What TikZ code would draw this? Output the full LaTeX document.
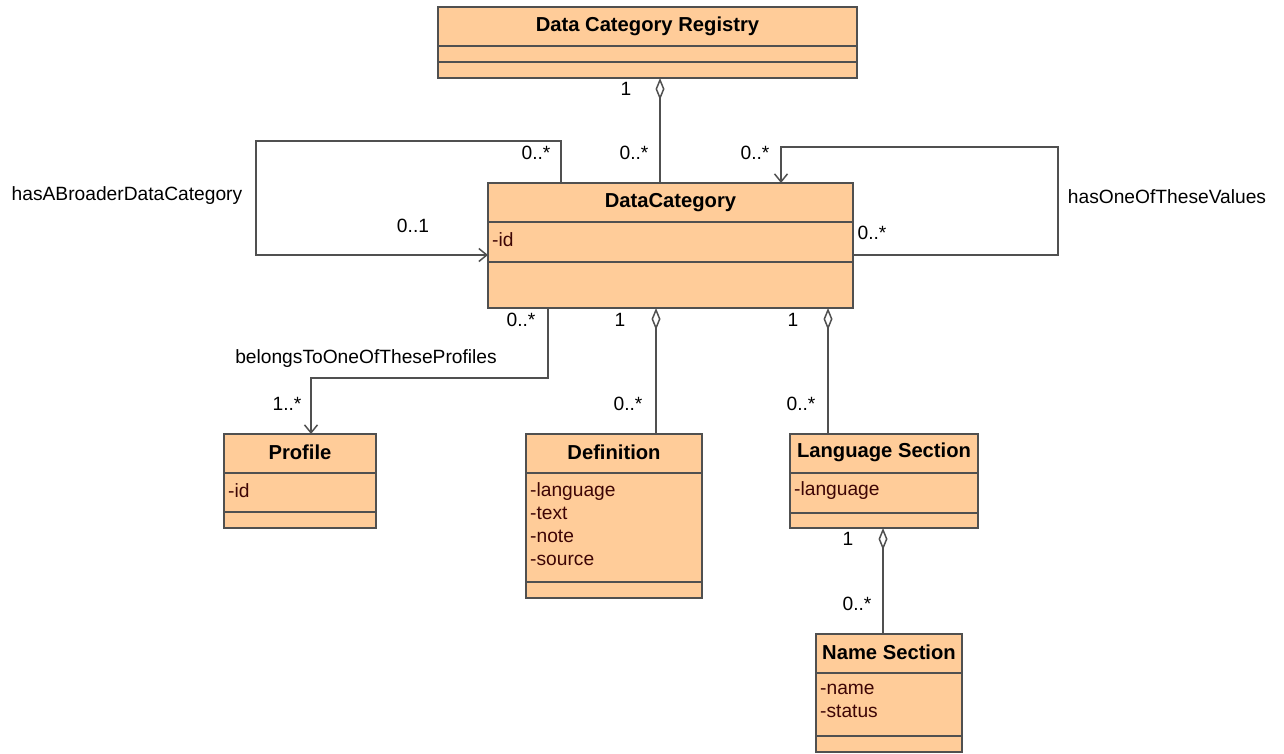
\documentclass[tikz,border=0pt]{standalone}
\usepackage{fontspec}
\setmainfont{Liberation Sans}
\usetikzlibrary{arrows.meta}
\definecolor{boxfill}{HTML}{FFCC99}
\definecolor{edge}{HTML}{505050}
\definecolor{attr}{HTML}{3D0505}
\begin{document}
\begin{tikzpicture}[x=1pt,y=-1pt,
  classbox/.style={draw=edge, fill=boxfill, line width=1.5pt, anchor=north west, inner sep=0pt, outer sep=0pt},
  sep/.style={draw=edge, line width=1.5pt},
  title/.style={font=\fontsize{20.2}{22}\selectfont\bfseries, text=black, inner sep=0pt},
  attrtext/.style={font=\fontsize{19.2}{23}\selectfont, text=attr, inner sep=0pt, anchor=west, align=left},
  lbl/.style={font=\fontsize{19.2}{22}\selectfont, text=black, inner sep=0pt},
  conn/.style={draw=edge, line width=1.5pt},
  nav/.style={conn, -{Straight Barb[length=8pt,width=13pt,line width=1.5pt]}},
  aggr/.style={conn, {Diamond[open,length=22pt,width=9pt,line width=1.5pt]}-}
]
\useasboundingbox (0,0) rectangle (1284,753);

% classes
\node[classbox, minimum width=419pt, minimum height=71pt] (reg) at (438,7) {};
\draw[sep] (438,46) -- (857,46) (438,62) -- (857,62);
\node[title] (regt) at (647.5,26.5) {Data Category Registry};

\node[classbox, minimum width=365pt, minimum height=125pt] (dc) at (488,183) {};
\draw[sep] (488,222) -- (853,222) (488,262) -- (853,262);
\node[title] (dct) at (670.5,202.5) {DataCategory};
\node[attrtext] (dca) at (492,240) {-id};

\node[classbox, minimum width=152pt, minimum height=94pt] (prof) at (224,434) {};
\draw[sep] (224,473) -- (376,473) (224,512) -- (376,512);
\node[title] (proft) at (300,452) {Profile};
\node[attrtext] (profa) at (228,491) {-id};

\node[classbox, minimum width=176pt, minimum height=164pt] (def) at (526,434) {};
\draw[sep] (526,473) -- (702,473) (526,582) -- (702,582);
\node[title] (deft) at (614,452) {Definition};
\node[attrtext, anchor=north west] (defa) at (530,482) {-language\\-text\\-note\\-source};

\node[classbox, minimum width=146pt, minimum height=118pt] (name) at (816,634) {};
\draw[sep] (816,673) -- (962,673) (816,736) -- (962,736);
\node[title] (namet) at (889,652) {Name Section};
\node[attrtext, anchor=north west] (namea) at (820,684) {-name\\-status};

\node[classbox, minimum width=188pt, minimum height=94pt] (lang) at (790,434) {};
\draw[sep] (790,473) -- (978,473) (790,513) -- (978,513);
\node[title] (langt) at (884,452) {Language Section};
\node[attrtext] (langa) at (794,491) {-language};

% connector anchor coordinates
\coordinate (x660) at (660,0);
\coordinate (x561) at (561,0);
\coordinate (x781) at (781,0);
\coordinate (x548) at (548,0);
\coordinate (x656) at (656,0);
\coordinate (x828) at (828,0);
\coordinate (x883) at (883,0);
\coordinate (x311) at (311,0);
\coordinate (y255) at (0,255);
\coordinate (lb1) at (256,141);
\coordinate (lb2) at (256,255);
\coordinate (rb1) at (1058,147);
\coordinate (rb2) at (1058,255);
\coordinate (pb1) at (548,378);
\coordinate (pb2) at (311,378);

% connectors
\draw[aggr] (reg.south -| x660) -- (dc.north -| x660);
\draw[nav] (dc.north -| x561) |- (lb1) -- (lb2) -- (dc.west |- y255);
\draw[nav] (dc.east |- y255) -- (rb2) -- (rb1) -| (dc.north -| x781);
\draw[nav] (dc.south -| x548) -- (pb1) -- (pb2) -- (prof.north -| x311);
\draw[aggr] (dc.south -| x656) -- (def.north -| x656);
\draw[aggr] (dc.south -| x828) -- (lang.north -| x828);
\draw[aggr] (lang.south -| x883) -- (name.north -| x883);

% labels
\node[lbl] (l1) at (626,89) {1};
\node[lbl] (l2) at (634,153) {0..*};
\node[lbl] (l3) at (536,153) {0..*};
\node[lbl] (l4) at (755,153) {0..*};
\node[lbl] (l5) at (127,196) {hasABroaderDataCategory};
\node[lbl] (l6) at (1167,197) {hasOneOfTheseValues};
\node[lbl] (l7) at (413,226) {0..1};
\node[lbl] (l8) at (872,233) {0..*};
\node[lbl] (l9) at (521,320) {0..*};
\node[lbl] (l10) at (620,320) {1};
\node[lbl] (l11) at (793,320) {1};
\node[lbl] (l12) at (366,359) {belongsToOneOfTheseProfiles};
\node[lbl] (l13) at (287,404) {1..*};
\node[lbl] (l14) at (628,404) {0..*};
\node[lbl] (l15) at (801,404) {0..*};
\node[lbl] (l16) at (848,539) {1};
\node[lbl] (l17) at (857,604) {0..*};
\end{tikzpicture}
\end{document}
